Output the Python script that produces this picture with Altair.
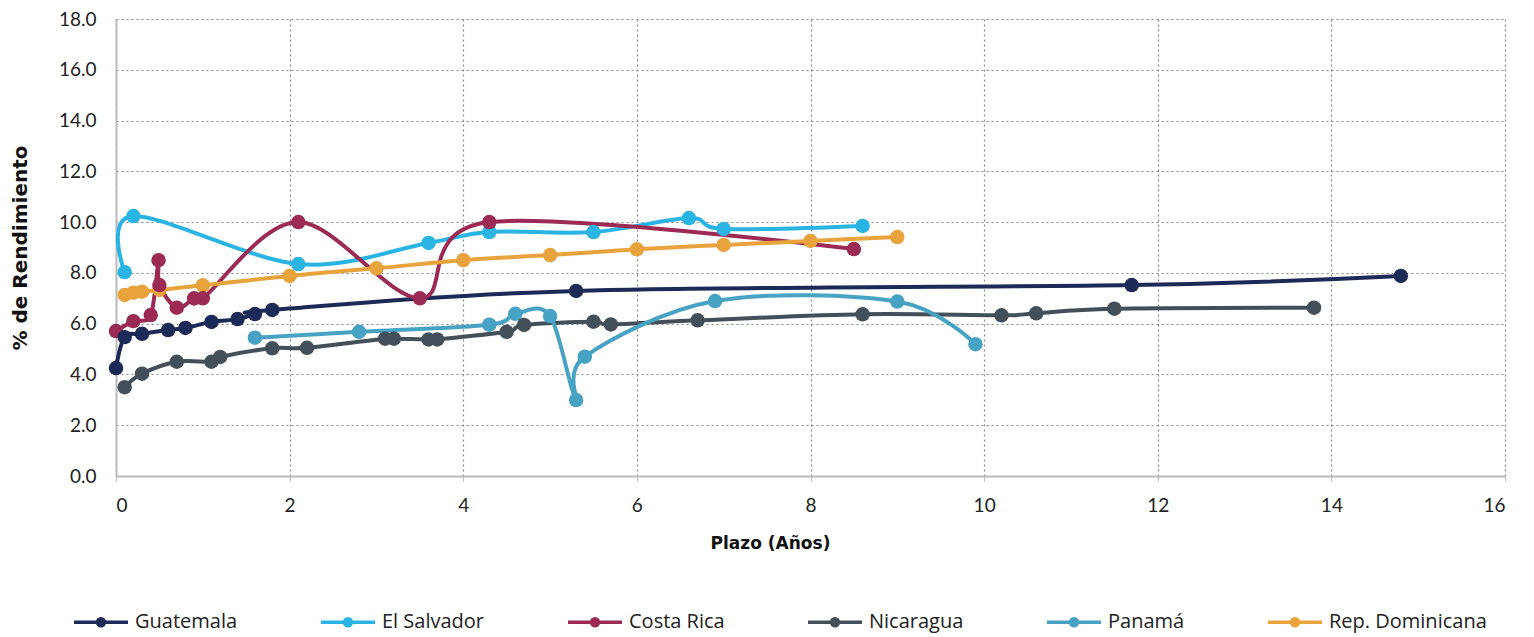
import altair as alt
import pandas as pd

countries = ["Guatemala", "El Salvador", "Costa Rica", "Nicaragua", "Panamá", "Rep. Dominicana"]
colors = ["#1b2a57", "#29b4e3", "#9b2a55", "#434f59", "#48a2c4", "#e8a33d"]

gt_x = [0.0, 0.1, 0.3, 0.6, 0.8, 1.1, 1.4, 1.6, 1.8, 5.3, 11.7, 14.8]
gt_y = [4.25, 5.47, 5.6, 5.75, 5.83, 6.07, 6.18, 6.38, 6.54, 7.29, 7.52, 7.88]

sv_x = [0.1, 0.2, 2.1, 3.6, 4.3, 5.5, 6.6, 7.0, 8.6]
sv_y = [8.03, 10.24, 8.35, 9.18, 9.61, 9.61, 10.16, 9.73, 9.85]

cr_x = [0.0, 0.2, 0.4, 0.49, 0.5, 0.7, 0.9, 1.0, 2.1, 3.5, 4.3, 8.5]
cr_y = [5.71, 6.1, 6.34, 8.5, 7.52, 6.63, 7.0, 7.0, 10.0, 7.0, 10.0, 8.94]

ni_x = [0.1, 0.3, 0.7, 1.1, 1.2, 1.8, 2.2, 3.1, 3.2, 3.6, 3.7, 4.5, 4.7, 5.5, 5.7, 6.7, 8.6, 10.2, 10.6, 11.5, 13.8]
ni_y = [3.5, 4.03, 4.5, 4.5, 4.69, 5.03, 5.05, 5.41, 5.41, 5.38, 5.38, 5.68, 5.95, 6.08, 5.97, 6.13, 6.37, 6.33, 6.41, 6.59, 6.63]

pa_x = [1.6, 2.8, 4.3, 4.6, 5.0, 5.3, 5.4, 6.9, 9.0, 9.9]
pa_y = [5.45, 5.68, 5.96, 6.39, 6.3, 2.99, 4.7, 6.89, 6.87, 5.19]

rd_x = [0.1, 0.2, 0.3, 0.5, 1.0, 2.0, 3.0, 4.0, 5.0, 6.0, 7.0, 8.0, 9.0]
rd_y = [7.13, 7.22, 7.26, 7.33, 7.51, 7.88, 8.18, 8.5, 8.7, 8.93, 9.1, 9.26, 9.41]

series = [(gt_x, gt_y), (sv_x, sv_y), (cr_x, cr_y), (ni_x, ni_y), (pa_x, pa_y), (rd_x, rd_y)]
rows = []
for name, (xs, ys) in zip(countries, series):
    for i, (x, y) in enumerate(zip(xs, ys)):
        rows.append({"pais": name, "plazo": x, "rend": y, "orden": i})
df = pd.DataFrame(rows)

FONT = "Lato"
legend_symbol = "M-1,0L1,0M0.13,0A0.13,0.13,0,1,1,-0.13,0A0.13,0.13,0,1,1,0.13,0Z"
color = alt.Color("pais:N", scale=alt.Scale(domain=countries, range=colors),
                  legend=alt.Legend(title=None, orient="none", direction="horizontal",
                                    legendX=-44, legendY=574,
                                    labelFont="Open Sans", labelFontSize=20, labelColor="#222",
                                    symbolType=legend_symbol, symbolStrokeWidth=3.5, symbolSize=2916,
                                    labelOffset=5, columnPadding=76, labelLimit=300))

xenc = alt.X("plazo:Q", scale=alt.Scale(domain=[0, 16], nice=False),
             axis=alt.Axis(title="Plazo (Años)", values=list(range(0, 17, 2)),
                           labelFont=FONT, labelFontSize=19, labelColor="#222", labelPadding=15,
                           titleFont="DejaVu Sans", titleFontSize=17, titleFontWeight="bold", titleColor="#111",
                           titlePadding=20, titleX=654, titleAlign="center", titleAnchor="start",
                           grid=True, gridDash=[2, 3], gridColor="#888", gridWidth=1.2,
                           domainColor="#bbb", domainWidth=2, tickColor="#bbb", tickSize=5))
yenc = alt.Y("rend:Q", scale=alt.Scale(domain=[0, 18], nice=False),
             axis=alt.Axis(title="% de Rendimiento", values=list(range(0, 19, 2)), format=".1f",
                           labelFont=FONT, labelFontSize=19, labelColor="#222", labelPadding=20,
                           titleFont="DejaVu Sans", titleFontSize=20, titleFontWeight="bold", titleColor="#111",
                           titlePadding=28, grid=True, gridDash=[2, 3], gridColor="#888", gridWidth=1.2,
                           domainColor="#bbb", domainWidth=2, ticks=False))

base = alt.Chart(df).encode(x=xenc, y=yenc, color=color, order="orden:Q")
lines = base.mark_line(interpolate="cardinal", tension=0, strokeWidth=4)
points = base.mark_point(filled=True, size=210, opacity=1)

chart = (lines + points).properties(
    width=1389, height=457,
    padding={"left": 2, "top": 2, "right": 5, "bottom": 2},
).configure_view(stroke=None)
chart.save("out.html", embed_options={"renderer": "svg", "actions": False})
